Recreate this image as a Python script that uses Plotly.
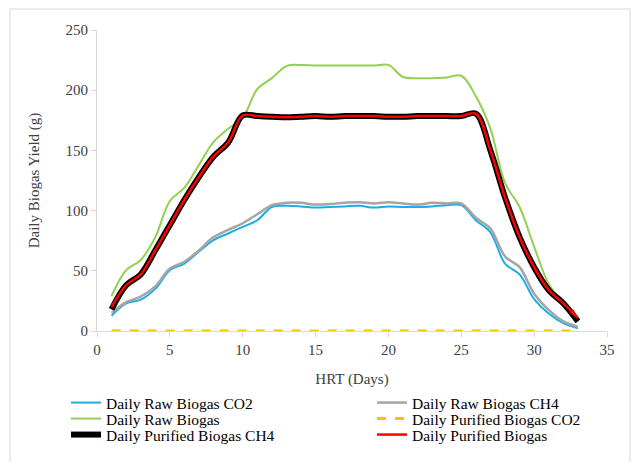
import plotly.graph_objects as go

days = list(range(1, 34))

raw_co2 = [12.7, 23, 26, 35, 50.5, 56, 66, 75.5, 81, 86.5, 92, 103, 104, 103.5, 102.5, 103,
           103.5, 104, 102.5, 103.5, 103, 103, 103.5, 104.5, 104.5, 92, 82, 56, 47, 26.5,
           14.5, 6.5, 2.2]
raw_ch4 = [15, 24, 28.5, 37, 52, 57.5, 67, 78, 84, 89.5, 97, 104.5, 106.5, 106.5, 105, 105.5,
           106.5, 107, 106, 107, 106, 105, 106.5, 106, 106, 94, 85, 62, 53, 31, 17.5, 8, 3.6]
raw_biogas = [29, 50.5, 59, 78, 108, 119, 138, 157, 168, 177, 201, 210, 220, 221, 220.5, 220.5,
              220.5, 220.5, 220.5, 221, 211, 210, 210, 210.5, 212, 195, 168, 123, 103, 70, 39,
              23, 8]
pur_co2 = [0] * 33
pur_ch4 = [18, 38, 47, 67, 88, 109, 128, 145, 156.5, 179, 178.5, 178, 177.5, 178, 178.5, 178,
           178.5, 178.5, 178.5, 178, 178, 178.5, 178.5, 178.5, 178.5, 180.5, 150, 111, 78, 53,
           34, 23, 8]
pur_biogas = [20, 38, 47, 67, 88, 109, 128, 145, 156.5, 179, 178.5, 178, 177.5, 178, 178.5, 178,
              178.5, 178.5, 178.5, 178, 178, 178.5, 178.5, 178.5, 178.5, 180.5, 150, 111, 78, 53,
              34, 23, 11]

names = ["Daily Raw Biogas CO2", "Daily Raw Biogas CH4", "Daily Raw Biogas",
         "Daily Purified Biogas CO2", "Daily Purified Biogas CH4", "Daily Purified Biogas"]

FONT = "Liberation Serif"
TXT = "#404040"

# The page body adds an 8 px offset; positions below are given in page pixels.
OFF = 8
W, H = 640, 462
PLOT_L, PLOT_R, PLOT_T, PLOT_B = 97, 607, 30, 331   # plot area in page pixels
L = PLOT_L - OFF
T = PLOT_T - OFF
R = W - (PLOT_R - OFF)
B = H - (PLOT_B - OFF)
PW, PH = PLOT_R - PLOT_L, PLOT_B - PLOT_T


def px_x(x):
    return (x - PLOT_L) / PW


def px_y(y):
    return (PLOT_B - y) / PH


fig = go.Figure()
fig.add_trace(go.Scatter(x=days, y=raw_co2, name=names[0], mode="lines", legend="legend",
                         line=dict(color="#1CADE4", width=2, shape="spline")))
fig.add_trace(go.Scatter(x=days, y=raw_ch4, name=names[1], mode="lines", legend="legend2",
                         line=dict(color="#A5A5A5", width=2.5, shape="spline")))
fig.add_trace(go.Scatter(x=days, y=raw_biogas, name=names[2], mode="lines", legend="legend3",
                         line=dict(color="#92D050", width=2, shape="spline")))
fig.add_trace(go.Scatter(x=days, y=pur_co2, name=names[3], mode="lines", legend="legend4",
                         line=dict(color="#FFC000", width=3, dash="dash")))
fig.add_trace(go.Scatter(x=days, y=pur_ch4, name=names[4], mode="lines", legend="legend5",
                         line=dict(color="#000000", width=6, shape="spline")))
n = len(days)
fig.add_trace(go.Scatter(x=days, y=pur_biogas, name=names[5], mode="lines+markers",
                         legend="legend6",
                         line=dict(color="#FF0000", width=2.5, shape="spline"),
                         marker=dict(color="#FF0000",
                                     symbol=["circle"] * (n - 1) + ["arrow"],
                                     size=[10] + [0] * (n - 2) + [10],
                                     angleref="previous", line=dict(width=0))))

col_x = [px_x(66), px_x(372)]
row_y = [px_y(403), px_y(419), px_y(435)]
leg_common = dict(orientation="v", xanchor="left", yanchor="middle", bgcolor="rgba(0,0,0,0)",
                  borderwidth=0, font=dict(family=FONT, size=15.5, color="#000000"))
legends = {}
for i in range(6):
    key = "legend" if i == 0 else f"legend{i + 1}"
    legends[key] = dict(x=col_x[i % 2], y=row_y[i // 2], **leg_common)

fig.update_layout(
    width=W, height=H,
    margin=dict(l=L, r=R, t=T, b=B, autoexpand=False),
    paper_bgcolor="white", plot_bgcolor="white",
    font=dict(family=FONT, size=15, color=TXT),
    showlegend=True,
    **legends,
    xaxis=dict(range=[0, 35], tickvals=[0, 5, 10, 15, 20, 25, 30, 35], showgrid=False,
               zeroline=False, showline=True, linecolor="#D9D9D9", linewidth=1,
               ticks="outside", ticklen=5, tickcolor="#D9D9D9",
               title=dict(text="HRT (Days)", standoff=16,
                          font=dict(family=FONT, size=15, color=TXT)),
               tickfont=dict(family=FONT, size=15, color=TXT)),
    yaxis=dict(range=[0, 250], dtick=50, showgrid=False, zeroline=False, showline=True,
               linecolor="#D9D9D9", linewidth=1, ticks="outside", ticklen=5,
               tickcolor="#D9D9D9",
               title=dict(text="Daily Biogas Yield (g)", standoff=22,
                          font=dict(family=FONT, size=15, color=TXT)),
               tickfont=dict(family=FONT, size=15, color=TXT)),
    shapes=[dict(type="rect", xref="paper", yref="paper",
                 x0=px_x(10), x1=px_x(630), y0=px_y(480), y1=px_y(9),
                 line=dict(color="#D9D9D9", width=1), layer="below")],
)

fig.write_html("out.html")
